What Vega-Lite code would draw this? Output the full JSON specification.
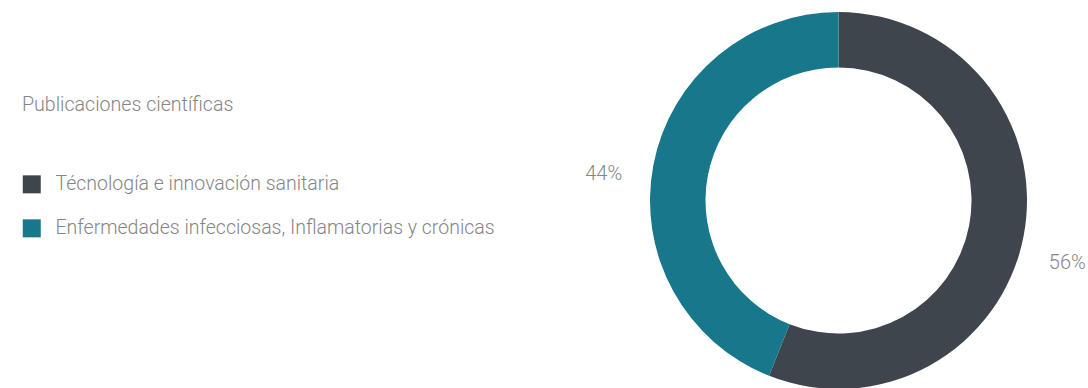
{
  "$schema": "https://vega.github.io/schema/vega-lite/v6.json",
  "autosize": {"type": "none"},
  "width": 377,
  "height": 377,
  "padding": {"left": 650, "top": 12, "right": 61, "bottom": 0},
  "background": "white",
  "config": {"view": {"stroke": null}, "font": "Roboto"},
  "data": {
    "values": [
      {"area": "Técnología e innovación sanitaria", "valor": 56, "orden": 1, "etiqueta": "56%"},
      {"area": "Enfermedades infecciosas, Inflamatorias y crónicas", "valor": 44, "orden": 2, "etiqueta": "44%"}
    ]
  },
  "encoding": {
    "theta": {"field": "valor", "type": "quantitative", "stack": true},
    "order": {"field": "orden", "type": "quantitative"},
    "color": {
      "field": "area",
      "type": "nominal",
      "scale": {
        "domain": ["Técnología e innovación sanitaria", "Enfermedades infecciosas, Inflamatorias y crónicas"],
        "range": ["#3f454d", "#16788a"]
      },
      "legend": {
        "orient": "none",
        "legendX": -628,
        "legendY": 84,
        "title": "Publicaciones científicas",
        "titleFont": "Roboto",
        "titleFontWeight": 300,
        "titleFontSize": 19.6,
        "titleColor": "#858585",
        "titlePadding": 59,
        "titleBaseline": "top",
        "titleLimit": 800,
        "labelFont": "Roboto",
        "labelFontWeight": 300,
        "labelFontSize": 19.5,
        "labelColor": "#858585",
        "labelOffset": 14,
        "labelLimit": 800,
        "symbolType": "square",
        "symbolSize": 324,
        "symbolStrokeWidth": 0,
        "rowPadding": 23,
        "symbolOpacity": 1
      }
    }
  },
  "layer": [
    {"mark": {"type": "arc", "innerRadius": 133, "outerRadius": 188.5, "stroke": null}},
    {
      "mark": {"type": "text", "radius": 236, "dx": -3, "dy": 18, "font": "Roboto", "fontWeight": 300, "fontSize": 20, "fill": "#858585"},
      "encoding": {"text": {"field": "etiqueta", "type": "nominal"}, "color": {"value": "#858585"}}
    }
  ]
}
